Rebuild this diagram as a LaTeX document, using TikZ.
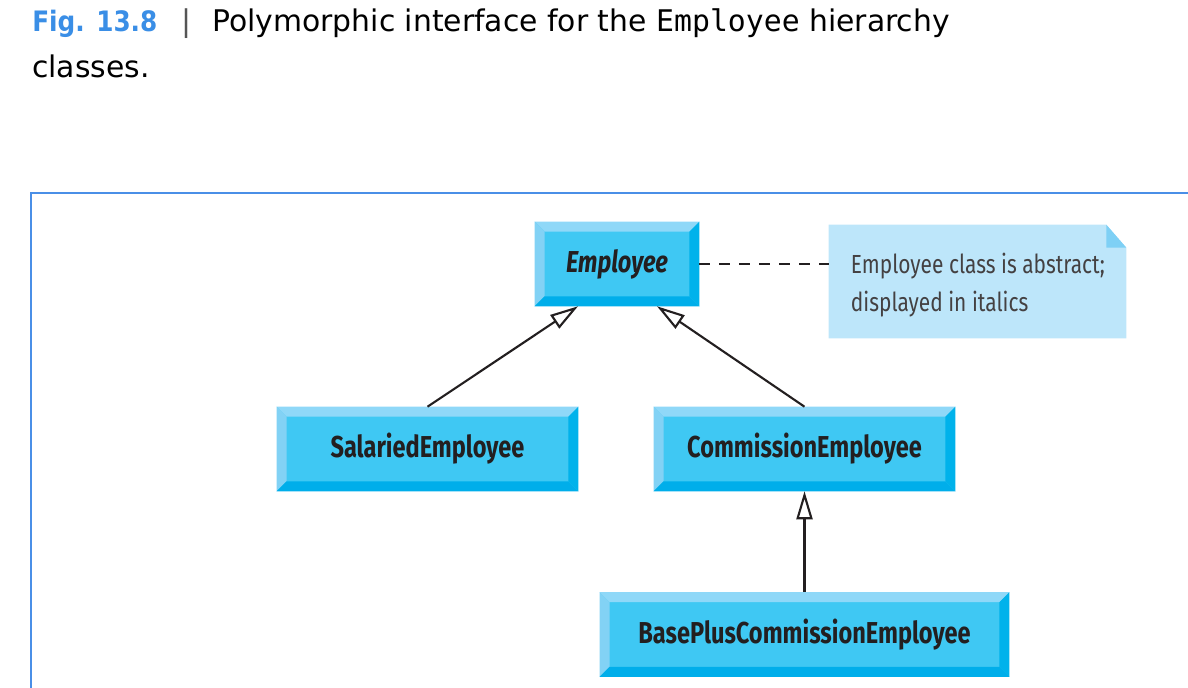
\documentclass[tikz,border=0pt]{standalone}
\usepackage{fontspec}
\setmainfont{DejaVu Sans}
\newfontfamily\figmono{DejaVu Sans Mono}
\newfontfamily\umlfont[FakeStretch=0.78]{Fira Sans}
\newfontfamily\notefont[FakeStretch=0.8]{Fira Sans}
\newfontfamily\fignum[FakeStretch=0.88]{DejaVu Sans}
\usetikzlibrary{arrows.meta,backgrounds}
\definecolor{figblue}{HTML}{3A8EE6}
\definecolor{bargray}{HTML}{555555}
\definecolor{framecol}{HTML}{4A8FE7}
\definecolor{bevellight}{HTML}{8FD8F8}
\definecolor{bevelleft}{HTML}{82D2F5}
\definecolor{bevelmid}{HTML}{3FC8F3}
\definecolor{beveldark}{HTML}{00AEEA}
\definecolor{bevelright}{HTML}{00B2EB}
\definecolor{notefill}{HTML}{BDE6FA}
\definecolor{notefold}{HTML}{7ED0F5}
\definecolor{umltext}{HTML}{231F20}
\tikzset{
	classbox/.style={fill=bevelmid, minimum width=#1, minimum height=2.1cm, inner sep=0pt,
		font=\umlfont\bfseries\fontsize{21.5}{23}\selectfont, text=umltext},
	inherit/.style={line width=1.5pt, umltext, -{Triangle[open,length=7mm,width=4mm]}},
	titletext/.style={anchor=base west, inner sep=0pt, font=\fontsize{21.2}{25}\selectfont},
}
\begin{document}
\begin{tikzpicture}[x=0.025cm,y=-0.025cm]
	\useasboundingbox (0,0) rectangle (1188,688);
	% caption
		\node[titletext, font=\fignum\fontsize{20}{25}\selectfont\bfseries, text=figblue] (fig) at (32,32) {Fig. 13.8};
		\node[titletext, text=bargray] (bar) at (181,32) {|};
		\node[titletext] (cap) at (212,32) {Polymorphic interface for the {\figmono Employee} hierarchy};
		\node[titletext] (cap2) at (32,78) {classes.};
	% frame
		\draw[framecol, line width=1.5pt] (31,700) -- (31,193) -- (1200,193);
	% classes
		\node[classbox=4.1cm] (emp) at (617,264) {\itshape Employee};
		\node[classbox=7.525cm] (sal) at (427.5,449) {SalariedEmployee};
		\node[classbox=7.525cm] (com) at (804.5,449) {CommissionEmployee};
		\node[classbox=10.225cm] (bpc) at (804.5,634.5) {BasePlusCommissionEmployee};
	% bevels
		\foreach \n in {emp,sal,com,bpc}{
			\fill[bevellight] (\n.north west) -- (\n.north east) -- ([shift={(-2.5mm,-2.5mm)}]\n.north east) -- ([shift={(2.5mm,-2.5mm)}]\n.north west) -- cycle;
			\fill[bevelleft] (\n.north west) -- ([shift={(2.5mm,-2.5mm)}]\n.north west) -- ([shift={(2.5mm,2.5mm)}]\n.south west) -- (\n.south west) -- cycle;
			\fill[beveldark] (\n.south west) -- (\n.south east) -- ([shift={(-2.5mm,2.5mm)}]\n.south east) -- ([shift={(2.5mm,2.5mm)}]\n.south west) -- cycle;
			\fill[bevelright] (\n.north east) -- (\n.south east) -- ([shift={(-2.5mm,2.5mm)}]\n.south east) -- ([shift={(-2.5mm,-2.5mm)}]\n.north east) -- cycle;
			}
	% note
		\node[minimum width=7.425cm, minimum height=2.825cm, inner sep=0pt] (note) at (977.5,281.5) {};
		\fill[notefill] (note.north west) -- ([xshift=-5mm]note.north east) -- ([yshift=-5.75mm]note.north east) -- (note.south east) -- (note.south west) -- cycle;
		\fill[notefold] ([xshift=-5mm]note.north east) -- ([yshift=-5.75mm]note.north east) -- ([shift={(-5mm,-5.75mm)}]note.north east) -- cycle;
		\node[anchor=west, align=left, inner xsep=0.55cm, text=umltext!85,
			font=\notefont\fontsize{18.6}{27}\selectfont] (notetext) at ([yshift=-0.1cm]note.west)
			{Employee class is abstract;\\displayed in italics};
		\draw[umltext, line width=1.3pt, dash pattern=on 2.6mm off 2.4mm] (emp.east) -- (emp.east -| note.west);
	% generalization
		\draw[inherit] (sal.north) -- ([xshift=-0.975cm]emp.south);
		\draw[inherit] (com.north) -- ([xshift=1cm]emp.south);
		\draw[inherit] (bpc.north) -- (com.south);
\end{tikzpicture}
\end{document}
